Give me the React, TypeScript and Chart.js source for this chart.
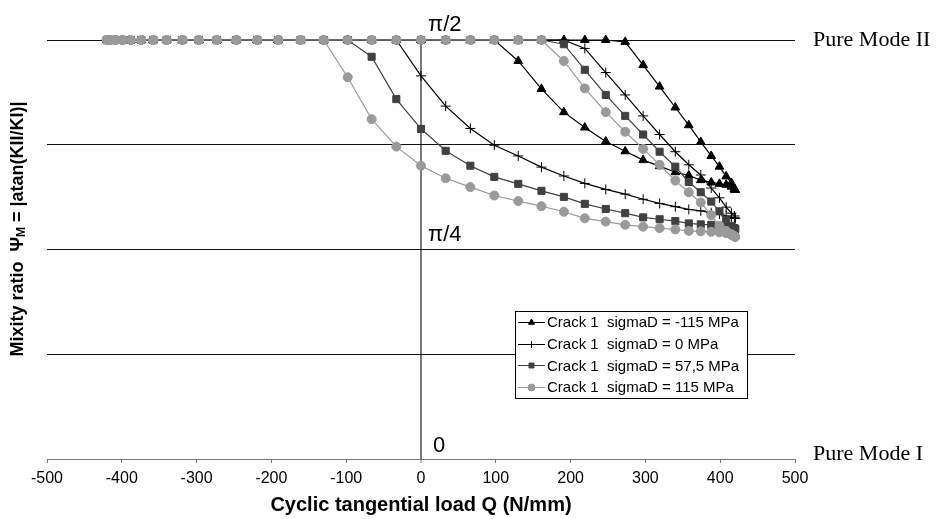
import React, { useEffect, useRef } from "react";
import { Chart, registerables } from "chart.js";

Chart.register(...registerables);

// Cyclic tangential load Q (N/mm): loading branch (-Q* -> +Q*) and unloading branch (+Q* -> -Q*)
const Q_LOAD = [-420, -419, -415, -408, -399, -388, -374, -358, -340, -319, -297, -273, -247, -219, -191, -161, -130, -98, -66, -33, 0, 33, 66, 98, 130, 161, 191, 219, 247, 273, 297, 319, 340, 358, 374, 388, 399, 408, 415, 419, 420];
const Q_UNLOAD = [420, 419, 415, 408, 399, 388, 374, 358, 340, 319, 297, 273, 247, 219, 191, 161, 130, 98, 66, 33, 0, -33, -66, -98, -130, -161, -191, -219, -247, -273, -297, -319, -340, -358, -374, -388, -399, -408, -415, -419, -420];

// Mixity ratio (degrees, 90 = pi/2)
const SIG_M115_LOAD = [90, 90, 90, 90, 90, 90, 90, 90, 90, 90, 90, 90, 90, 90, 90, 90, 90, 90, 90, 90, 90, 90, 90, 90, 85.5, 79.5, 74.5, 71.2, 68.2, 66.1, 64.2, 62.9, 61.6, 60.9, 59.9, 59.4, 59.1, 58.9, 58.5, 57.9, 57.8];
const SIG_M115_UNLOAD = [57.8, 58.0, 59.3, 60.7, 62.8, 65.1, 68.1, 71.7, 75.5, 80.0, 84.6, 89.6, 90, 90, 90, 90, 90, 90, 90, 90, 90, 90, 90, 90, 90, 90, 90, 90, 90, 90, 90, 90, 90, 90, 90, 90, 90, 90, 90, 90, 90];

const SIG_0_LOAD = [90, 90, 90, 90, 90, 90, 90, 90, 90, 90, 90, 90, 90, 90, 90, 90, 90, 90, 90, 90, 82.3, 75.8, 71.0, 67.4, 65.1, 62.7, 60.8, 59.2, 57.9, 56.9, 55.8, 54.9, 54.2, 53.6, 53.3, 52.9, 52.6, 52.2, 51.9, 51.8, 51.7];
const SIG_0_UNLOAD = [51.7, 52.2, 52.8, 54.1, 56.1, 58.2, 61.0, 63.2, 66.0, 69.7, 73.7, 78.2, 83.0, 88.2, 90, 90, 90, 90, 90, 90, 90, 90, 90, 90, 90, 90, 90, 90, 90, 90, 90, 90, 90, 90, 90, 90, 90, 90, 90, 90, 90];

const SIG_575_LOAD = [90, 90, 90, 90, 90, 90, 90, 90, 90, 90, 90, 90, 90, 90, 90, 90, 90, 90, 86.4, 77.3, 70.9, 66.2, 63.0, 60.6, 59.1, 57.6, 56.3, 54.8, 53.7, 52.8, 51.9, 51.5, 51.1, 50.6, 50.4, 50.3, 50.0, 49.9, 49.7, 49.5, 49.4];
const SIG_575_UNLOAD = [49.4, 49.6, 50.0, 51.4, 53.2, 55.3, 57.3, 59.5, 62.8, 66.0, 69.7, 73.7, 78.2, 83.6, 89.1, 90, 90, 90, 90, 90, 90, 90, 90, 90, 90, 90, 90, 90, 90, 90, 90, 90, 90, 90, 90, 90, 90, 90, 90, 90, 90];

const SIG_115_LOAD = [90, 90, 90, 90, 90, 90, 90, 90, 90, 90, 90, 90, 90, 90, 90, 90, 90, 82.0, 73.0, 67.1, 63.0, 60.3, 58.4, 56.6, 55.4, 54.3, 53.1, 51.7, 51.0, 50.3, 49.9, 49.6, 49.3, 49.0, 48.9, 48.8, 48.7, 48.5, 48.1, 47.8, 47.7];
const SIG_115_UNLOAD = [47.7, 47.9, 48.3, 49.0, 50.1, 52.4, 55.1, 57.3, 59.8, 63.2, 66.6, 70.3, 74.5, 79.6, 85.5, 90, 90, 90, 90, 90, 90, 90, 90, 90, 90, 90, 90, 90, 90, 90, 90, 90, 90, 90, 90, 90, 90, 90, 90, 90, 90];

const SERIES_LABELS = [
  "Crack 1  sigmaD = -115 MPa",
  "Crack 1  sigmaD = 0 MPa",
  "Crack 1  sigmaD = 57,5 MPa",
  "Crack 1  sigmaD = 115 MPa",
];
const SERIES_COLORS = ["#000000", "#000000", "#404040", "#9a9a9a"];
const SERIES_MARKERS = ["triangle", "cross", "rect", "circle"];
const SERIES_RADII = [5, 5, 5, 4.5];

const X_MIN = -500;
const X_MAX = 500;
const X_STEP = 100;
const Y_MIN = 0;
const Y_MAX = 90;
const Y_STEP = 22.5;

const X_TITLE = "Cyclic tangential load Q (N/mm)";
const Y_TITLE_A = "Mixity ratio  \u03A8";
const Y_TITLE_SUB = "M";
const Y_TITLE_B = " = |atan(KII/KI)|";
const LABEL_PI2 = "\u03C0/2";
const LABEL_PI4 = "\u03C0/4";
const LABEL_ZERO = "0";
const LABEL_MODE2 = "Pure Mode II";
const LABEL_MODE1 = "Pure Mode I";

const SANS = '"Liberation Sans", Arial, sans-serif';
const SERIF = '"Liberation Serif", "Times New Roman", serif';

function makeData(load: number[], unload: number[]) {
  const a = Q_LOAD.map((q, i) => ({ x: q, y: load[i] }));
  const b = Q_UNLOAD.map((q, i) => ({ x: q, y: unload[i] }));
  return a.concat(b);
}

function drawMarker(ctx: CanvasRenderingContext2D, style: string, x: number, y: number, r: number, color: string) {
  ctx.save();
  ctx.fillStyle = color;
  ctx.strokeStyle = color;
  ctx.lineWidth = 1;
  ctx.beginPath();
  if (style === "triangle") {
    let rad = 0;
    const t = (2 * Math.PI) / 3;
    ctx.moveTo(x + Math.sin(rad) * r, y - Math.cos(rad) * r);
    rad += t;
    ctx.lineTo(x + Math.sin(rad) * r, y - Math.cos(rad) * r);
    rad += t;
    ctx.lineTo(x + Math.sin(rad) * r, y - Math.cos(rad) * r);
    ctx.closePath();
    ctx.fill();
    ctx.stroke();
  } else if (style === "cross") {
    ctx.moveTo(x - r, y);
    ctx.lineTo(x + r, y);
    ctx.moveTo(x, y - r);
    ctx.lineTo(x, y + r);
    ctx.stroke();
  } else if (style === "rect") {
    const s = Math.SQRT1_2 * r;
    ctx.rect(x - s, y - s, 2 * s, 2 * s);
    ctx.fill();
    ctx.stroke();
  } else {
    ctx.arc(x, y, r, 0, Math.PI * 2);
    ctx.fill();
    ctx.stroke();
  }
  ctx.restore();
}

const overlayPlugin = {
  id: "overlay",
  afterDraw(chart: any) {
    const ctx: CanvasRenderingContext2D = chart.ctx;
    const xs = chart.scales.x;
    const ys = chart.scales.y;
    const ca = chart.chartArea;
    ctx.save();
    ctx.fillStyle = "#000";
    ctx.textAlign = "left";
    ctx.textBaseline = "alphabetic";

    const x0 = xs.getPixelForValue(0);
    ctx.font = `22px ${SANS}`;
    ctx.fillText(LABEL_PI2, x0 + 7, ys.getPixelForValue(90) - 9);
    ctx.fillText(LABEL_PI4, x0 + 7, ys.getPixelForValue(45) - 9);
    ctx.fillText(LABEL_ZERO, x0 + 12, ys.getPixelForValue(0) - 7);

    ctx.font = `22px ${SERIF}`;
    ctx.fillText(LABEL_MODE2, ca.right + 18, ys.getPixelForValue(90) + 6);
    ctx.fillText(LABEL_MODE1, ca.right + 18, ys.getPixelForValue(0) + 1);

    // x axis title
    ctx.font = `bold 20px ${SANS}`;
    ctx.textAlign = "center";
    ctx.textBaseline = "middle";
    ctx.fillText(X_TITLE, (ca.left + ca.right) / 2, 505);

    // y axis title (rotated, with subscript)
    ctx.save();
    ctx.translate(18, 229);
    ctx.rotate(-Math.PI / 2);
    ctx.textAlign = "left";
    ctx.textBaseline = "middle";
    const fMain = `bold 18px ${SANS}`;
    const fSub = `bold 12px ${SANS}`;
    ctx.font = fMain;
    const wA = ctx.measureText(Y_TITLE_A).width;
    const wB = ctx.measureText(Y_TITLE_B).width;
    ctx.font = fSub;
    const wS = ctx.measureText(Y_TITLE_SUB).width;
    const total = wA + wS + wB;
    let cx = -total / 2;
    ctx.font = fMain;
    ctx.fillText(Y_TITLE_A, cx, 0);
    cx += wA;
    ctx.font = fSub;
    ctx.fillText(Y_TITLE_SUB, cx, 4);
    cx += wS;
    ctx.font = fMain;
    ctx.fillText(Y_TITLE_B, cx, 0);
    ctx.restore();

    // legend
    const lx = 515, ly = 311, lw = 232, lh = 87;
    ctx.fillStyle = "#fff";
    ctx.fillRect(lx, ly, lw, lh);
    ctx.strokeStyle = "#000";
    ctx.lineWidth = 1;
    ctx.strokeRect(lx + 0.5, ly + 0.5, lw, lh);
    ctx.font = `15px ${SANS}`;
    ctx.textAlign = "left";
    ctx.textBaseline = "middle";
    SERIES_LABELS.forEach((lab, i) => {
      const ry = ly + 11 + i * 21.7;
      ctx.strokeStyle = SERIES_COLORS[i];
      ctx.lineWidth = 1;
      ctx.beginPath();
      ctx.moveTo(lx + 3, Math.round(ry) + 0.5);
      ctx.lineTo(lx + 30, Math.round(ry) + 0.5);
      ctx.stroke();
      drawMarker(ctx, SERIES_MARKERS[i], lx + 16.5, Math.round(ry) + 0.5, 3.5, SERIES_COLORS[i]);
      ctx.fillStyle = "#000";
      ctx.fillText(lab, lx + 32, ry + 1);
    });
    ctx.restore();
  },
};

export default function App() {
  const canvasRef = useRef<HTMLCanvasElement | null>(null);

  useEffect(() => {
    const canvas = canvasRef.current;
    if (!canvas) return;
    const loads = [SIG_M115_LOAD, SIG_0_LOAD, SIG_575_LOAD, SIG_115_LOAD];
    const unloads = [SIG_M115_UNLOAD, SIG_0_UNLOAD, SIG_575_UNLOAD, SIG_115_UNLOAD];
    const datasets = SERIES_LABELS.map((label, i) => ({
      label,
      data: makeData(loads[i], unloads[i]),
      borderColor: SERIES_COLORS[i],
      backgroundColor: SERIES_COLORS[i],
      pointBackgroundColor: SERIES_COLORS[i],
      pointBorderColor: SERIES_COLORS[i],
      pointStyle: SERIES_MARKERS[i],
      pointRadius: SERIES_RADII[i],
      pointBorderWidth: 1,
      borderWidth: 1.2,
      tension: 0,
      fill: false,
      clip: false,
      order: 3 - i,
    }));

    const chart = new Chart(canvas, {
      type: "line",
      data: { datasets },
      plugins: [overlayPlugin],
      options: {
        animation: false,
        responsive: false,
        devicePixelRatio: 1,
        layout: { padding: { left: 0, right: 144, top: 40, bottom: 0 } },
        plugins: {
          legend: { display: false },
          tooltip: { enabled: false },
          title: { display: false },
        },
        scales: {
          x: {
            type: "linear",
            min: X_MIN,
            max: X_MAX,
            ticks: {
              stepSize: X_STEP,
              color: "#000",
              font: { family: SANS, size: 16 },
              padding: 6,
              maxRotation: 0,
              autoSkip: false,
            },
            grid: {
              color: (c: any) => (c.tick && c.tick.value === 0 ? "#7a7a7a" : "rgba(0,0,0,0)"),
              lineWidth: (c: any) => (c.tick && c.tick.value === 0 ? 2 : 1),
              drawTicks: true,
              tickLength: 4,
              tickColor: "#7a7a7a",
              tickWidth: 1,
            },
            border: { display: true, color: "#7a7a7a", width: 1 },
            afterFit: (s: any) => {
              s.height = 60;
            },
          },
          y: {
            type: "linear",
            min: Y_MIN,
            max: Y_MAX,
            ticks: { stepSize: Y_STEP, display: false },
            grid: {
              color: (c: any) => (c.tick && c.tick.value === 0 ? "#7a7a7a" : "#111"),
              lineWidth: 1,
              drawTicks: false,
            },
            border: { display: false },
            afterFit: (s: any) => {
              s.width = 47;
            },
          },
        },
      } as any,
    });
    return () => chart.destroy();
  }, []);

  return (
    <div style={{ position: "absolute", left: 0, top: 0, width: 939, height: 519, background: "#fff" }}>
      <canvas ref={canvasRef} width={939} height={519} style={{ display: "block" }} />
    </div>
  );
}
